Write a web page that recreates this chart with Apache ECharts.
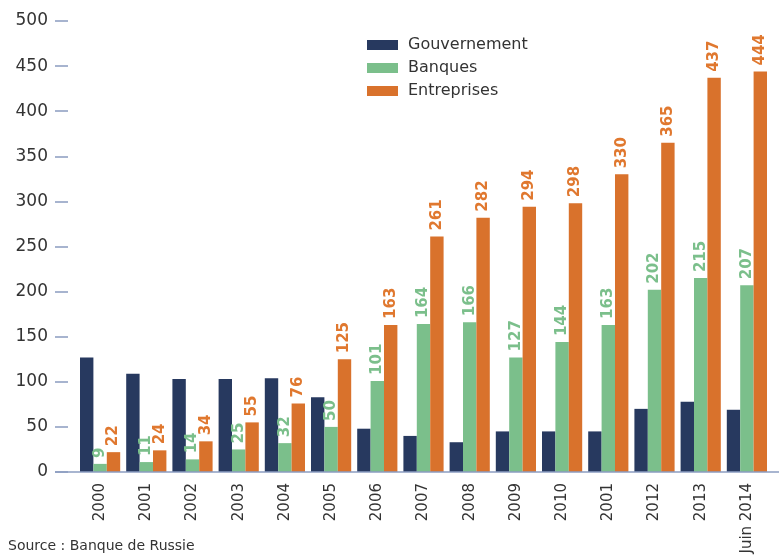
<!DOCTYPE html>
<html><head><meta charset="utf-8">
<script src="https://cdn.jsdelivr.net/npm/echarts@6/dist/echarts.min.js"></script>
<style>html,body{margin:0;padding:0;background:#fff}#c{width:779px;height:557px}</style>
</head><body><div id="c"></div>
<script>
const categories = ['2000','2001','2002','2003','2004','2005','2006','2007','2008','2009','2010','2001','2012','2013','Juin 2014'];
const gouvernement = [127, 109, 103, 103, 104, 83, 48, 40, 33, 45, 45, 45, 70, 78, 69];
const banques = [9, 11, 14, 25, 32, 50, 101, 164, 166, 127, 144, 163, 202, 215, 207];
const entreprises = [22, 24, 34, 55, 76, 125, 163, 261, 282, 294, 298, 330, 365, 437, 444];

const FONT = 'DejaVu Sans';
const chart = echarts.init(document.getElementById('c'), null, {renderer: 'canvas'});
const lbl = (color) => ({
  show: true, position: 'top', rotate: 90, align: 'left', verticalAlign: 'middle',
  distance: 6, color: color, fontSize: 15, fontWeight: 'bold', fontFamily: FONT
});
chart.setOption({
  animation: false,
  backgroundColor: '#fff',
  textStyle: {fontFamily: FONT},
  grid: {left: 77, right: 9, top: 21, bottom: 85},
  legend: {
    orient: 'vertical', left: 362, top: 32, itemGap: 7, itemWidth: 31, itemHeight: 10,
    icon: 'rect', textStyle: {fontSize: 16, color: '#333', fontFamily: FONT, padding: [0, 0, 0, 5]},
    data: ['Gouvernement', 'Banques', 'Entreprises']
  },
  xAxis: {
    type: 'category', data: categories,
    axisLine: {show: false}, axisTick: {show: false},
    axisLabel: {rotate: 90, margin: 11, fontSize: 15, color: '#333', fontFamily: FONT, interval: 0}
  },
  yAxis: {
    type: 'value', min: 0, max: 500, interval: 50, offset: 9,
    axisLine: {show: false},
    axisTick: {show: true, length: 13, lineStyle: {color: '#8b9cc0', width: 1.5}},
    splitLine: {show: false},
    axisLabel: {margin: 20, fontSize: 17, color: '#333', fontFamily: FONT}
  },
  series: [
    {name: 'Gouvernement', type: 'bar', data: gouvernement, barGap: '0%', barCategoryGap: '13%',
     itemStyle: {color: '#27395f'}},
    {name: 'Banques', type: 'bar', data: banques, barGap: '0%', barCategoryGap: '13%',
     itemStyle: {color: '#7bbf8b'}, label: lbl('#7bbf8b')},
    {name: 'Entreprises', type: 'bar', data: entreprises, barGap: '0%', barCategoryGap: '13%',
     itemStyle: {color: '#d9722c'}, label: lbl('#e0782f')}
  ]
});
const y0 = chart.convertToPixel({yAxisIndex: 0}, 0);
chart.setOption({
  graphic: [
    {type: 'line', shape: {x1: 55, y1: y0, x2: 779, y2: y0}, style: {stroke: '#8b9cc0', lineWidth: 1.5}, z: 10},
    {type: 'text', left: 8, top: 539, style: {text: 'Source : Banque de Russie', fontSize: 14, fill: '#333', fontFamily: FONT}}
  ]
});
</script></body></html>
